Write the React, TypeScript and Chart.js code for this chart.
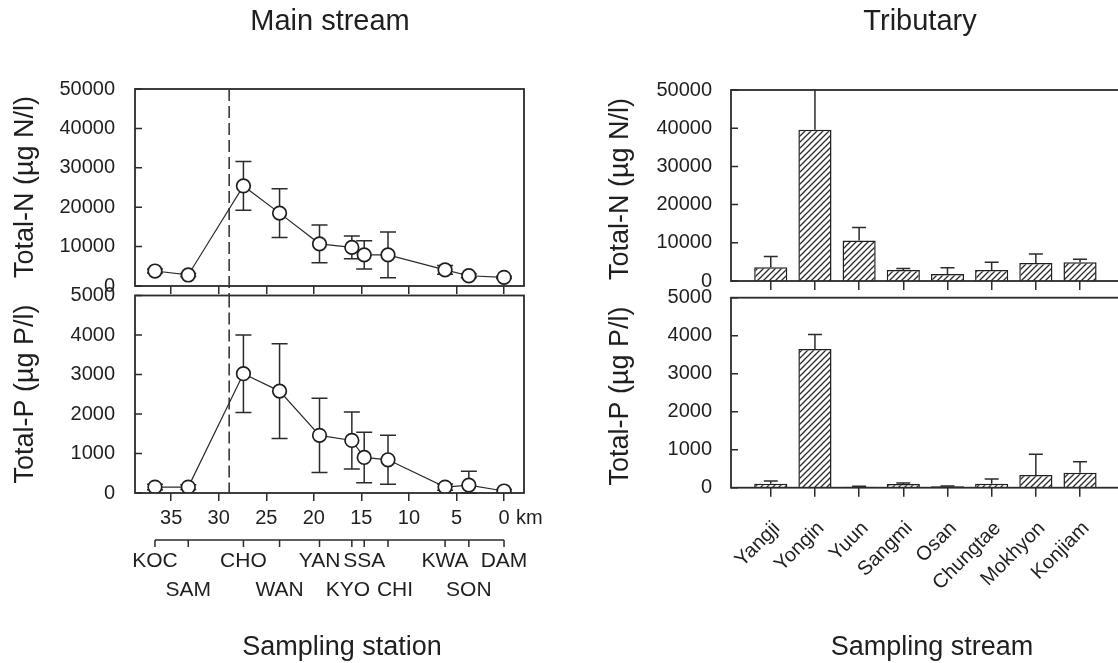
import React, { useEffect, useRef } from 'react';
import { Chart, registerables } from 'chart.js';

Chart.register(...registerables);

const CW = 1140;
const CH = 663;
const FONT = '"Liberation Sans", Arial, Helvetica, sans-serif';
const INK = '#1f1f1f';
const LINE = '#2b2b2b';

// ---- Main stream (left) ----
const stations = ['KOC', 'SAM', 'CHO', 'WAN', 'YAN', 'KYO', 'SSA', 'CHI', 'KWA', 'SON', 'DAM'];
const stationKm = [36.7, 33.2, 27.4, 23.6, 19.4, 16.0, 14.7, 12.2, 6.2, 3.7, 0.0];
const stationRow = [0, 1, 0, 1, 0, 1, 0, 1, 0, 1, 0];
const mainN = [3800, 2800, 25400, 18500, 10700, 9800, 7900, 7900, 4100, 2600, 2200];
const mainNErr = [500, 400, 6200, 6200, 4800, 2900, 3600, 5800, 1100, 500, 300];
const mainP = [150, 150, 3020, 2580, 1460, 1330, 900, 840, 150, 200, 50];
const mainPErr = [70, 60, 980, 1200, 940, 720, 640, 620, 80, 350, 40];
const kmTicks = [35, 30, 25, 20, 15, 10, 5, 0];
const boundaryKm = 28.9;

// ---- Tributary (right) ----
const tributaries = ['Yangji', 'Yongin', 'Yuun', 'Sangmi', 'Osan', 'Chungtae', 'Mokhyon', 'Konjiam'];
const tribN = [3600, 39600, 10600, 2900, 1800, 2900, 4700, 4900];
const tribNErr = [2800, 12000, 3400, 350, 1700, 2000, 2400, 800];
const tribP = [105, 3650, 25, 95, 35, 105, 335, 395];
const tribPErr = [70, 380, 10, 30, 10, 125, 545, 290];

const nTicks = [0, 10000, 20000, 30000, 40000, 50000];
const pTicks = [0, 1000, 2000, 3000, 4000, 5000];

type Area = { left: number; top: number; right: number; bottom: number };
type Label = { text: string; x: number; y: number; size: number; rotate?: boolean };

function drawLabels(ctx: CanvasRenderingContext2D, labels: Label[]) {
  ctx.save();
  ctx.fillStyle = INK;
  labels.forEach((l) => {
    ctx.save();
    ctx.font = `${l.size}px ${FONT}`;
    ctx.textAlign = 'center';
    ctx.textBaseline = 'middle';
    ctx.translate(l.x, l.y);
    if (l.rotate) ctx.rotate(-Math.PI / 2);
    ctx.fillText(l.text, 0, 0);
    ctx.restore();
  });
  ctx.restore();
}

function frameAndTicks(chart: any, yTicks: number[]) {
  const ctx = chart.ctx as CanvasRenderingContext2D;
  const a = chart.chartArea;
  const ys = chart.scales.y;
  ctx.save();
  ctx.strokeStyle = LINE;
  ctx.lineWidth = 1.8;
  ctx.strokeRect(a.left, a.top, a.right - a.left, a.bottom - a.top);
  ctx.lineWidth = 1.5;
  ctx.beginPath();
  yTicks.forEach((v) => {
    const p = ys.getPixelForValue(v);
    ctx.moveTo(a.left, p);
    ctx.lineTo(a.left + 7, p);
  });
  ctx.stroke();
  ctx.restore();
}

function lineConfig(o: {
  area: Area; values: number[]; errs: number[]; yMax: number; yTicks: number[];
  showX: boolean; xH: number; labels: Label[]; dashTop: number; dashBottom: number; stationsDecor: boolean;
}) {
  const { area } = o;
  const decor = {
    id: 'decor',
    beforeDatasetsDraw(chart: any) {
      const ctx = chart.ctx as CanvasRenderingContext2D;
      const xs = chart.scales.x;
      const ys = chart.scales.y;
      ctx.save();
      const dx = xs.getPixelForValue(boundaryKm);
      ctx.strokeStyle = LINE;
      ctx.lineWidth = 1.5;
      ctx.setLineDash([12, 5]);
      ctx.beginPath();
      ctx.moveTo(dx, o.dashTop);
      ctx.lineTo(dx, o.dashBottom);
      ctx.stroke();
      ctx.setLineDash([]);
      ctx.lineWidth = 1.5;
      ctx.beginPath();
      stationKm.forEach((k, i) => {
        const px = xs.getPixelForValue(k);
        const hi = ys.getPixelForValue(o.values[i] + o.errs[i]);
        const lo = ys.getPixelForValue(Math.max(0, o.values[i] - o.errs[i]));
        ctx.moveTo(px, hi);
        ctx.lineTo(px, lo);
        ctx.moveTo(px - 8, hi);
        ctx.lineTo(px + 8, hi);
        ctx.moveTo(px - 8, lo);
        ctx.lineTo(px + 8, lo);
      });
      ctx.stroke();
      ctx.restore();
    },
    afterDraw(chart: any) {
      const ctx = chart.ctx as CanvasRenderingContext2D;
      frameAndTicks(chart, o.yTicks);
      if (o.stationsDecor) {
        const xs = chart.scales.x;
        const pts = stationKm.map((k) => xs.getPixelForValue(k));
        ctx.save();
        ctx.strokeStyle = LINE;
        ctx.lineWidth = 1.5;
        ctx.beginPath();
        ctx.moveTo(pts[0], 540);
        ctx.lineTo(pts[pts.length - 1], 540);
        pts.forEach((p) => {
          ctx.moveTo(p, 540);
          ctx.lineTo(p, 547);
        });
        ctx.stroke();
        ctx.fillStyle = INK;
        ctx.font = `21px ${FONT}`;
        ctx.textAlign = 'center';
        ctx.textBaseline = 'middle';
        stations.forEach((s, i) => {
          // keep the crowded pair KYO / CHI apart, as in the original lettering
          const nudge = s === 'KYO' ? -4 : s === 'CHI' ? 7 : 0;
          ctx.fillText(s, pts[i] + nudge, stationRow[i] ? 590 : 561);
        });
        ctx.font = `20px ${FONT}`;
        ctx.textAlign = 'left';
        ctx.fillText('km', xs.getPixelForValue(0) + 12, xs.top + 8 + 5 + 12);
        ctx.restore();
      }
      drawLabels(ctx, o.labels);
    },
  };
  return {
    type: 'line' as const,
    data: {
      datasets: [
        {
          data: stationKm.map((k, i) => ({ x: k, y: o.values[i] })),
          borderColor: LINE,
          borderWidth: 1.2,
          pointRadius: 6.8,
          pointBackgroundColor: '#ffffff',
          pointBorderColor: INK,
          pointBorderWidth: 1.7,
          tension: 0,
          fill: false,
        },
      ],
    },
    options: {
      responsive: false,
      animation: false as const,
      devicePixelRatio: 1,
      events: [],
      layout: { padding: { left: 0, top: area.top, right: CW - area.right, bottom: CH - area.bottom - o.xH } },
      plugins: { legend: { display: false }, tooltip: { enabled: false }, title: { display: false } },
      scales: {
        x: {
          type: 'linear' as const,
          reverse: true,
          min: -2.1,
          max: 38.8,
          afterFit: (s: any) => { s.height = o.xH; },
          afterBuildTicks: (s: any) => { s.ticks = kmTicks.map((v) => ({ value: v })); },
          grid: { display: true, drawOnChartArea: false, drawTicks: true, tickLength: 8, color: LINE, tickColor: LINE, tickWidth: 1.5, lineWidth: 1.5 },
          border: { display: false },
          ticks: {
            display: o.showX, autoSkip: false, minRotation: 0, maxRotation: 0, padding: 5, color: INK,
            font: { family: FONT, size: 20 }, callback: (v: any) => String(v),
          },
        },
        y: {
          type: 'linear' as const,
          min: 0,
          max: o.yMax,
          afterFit: (s: any) => { s.width = area.left; },
          afterBuildTicks: (s: any) => { s.ticks = o.yTicks.map((v) => ({ value: v })); },
          grid: { display: false },
          border: { display: false },
          ticks: { padding: 12, color: INK, font: { family: FONT, size: 20 }, callback: (v: any) => String(v) },
        },
      },
    },
    plugins: [decor],
  };
}

function makeHatch(ctx: CanvasRenderingContext2D) {
  const t = document.createElement('canvas');
  t.width = 6;
  t.height = 6;
  const g = t.getContext('2d') as CanvasRenderingContext2D;
  g.fillStyle = '#ffffff';
  g.fillRect(0, 0, 6, 6);
  g.strokeStyle = '#2b2b2b';
  g.lineWidth = 1.3;
  g.beginPath();
  g.moveTo(-1, 7); g.lineTo(7, -1);
  g.moveTo(-1, 1); g.lineTo(1, -1);
  g.moveTo(5, 7); g.lineTo(7, 5);
  g.stroke();
  return ctx.createPattern(t, 'repeat');
}

function barConfig(ctx: CanvasRenderingContext2D, o: {
  area: Area; values: number[]; errs: number[]; yMax: number; yTicks: number[];
  showX: boolean; xH: number; labels: Label[];
}) {
  const { area } = o;
  const decor = {
    id: 'decor',
    afterDatasetsDraw(chart: any) {
      const c = chart.ctx as CanvasRenderingContext2D;
      const a = chart.chartArea;
      const xs = chart.scales.x;
      const ys = chart.scales.y;
      c.save();
      c.beginPath();
      c.rect(a.left, a.top, a.right - a.left, a.bottom - a.top);
      c.clip();
      c.strokeStyle = LINE;
      c.lineWidth = 1.5;
      c.beginPath();
      o.values.forEach((v, i) => {
        const px = xs.getPixelForValue(i + 1);
        const top = ys.getPixelForValue(v);
        const hi = ys.getPixelForValue(v + o.errs[i]);
        c.moveTo(px, top);
        c.lineTo(px, hi);
        c.moveTo(px - 7, hi);
        c.lineTo(px + 7, hi);
      });
      c.stroke();
      c.restore();
    },
    afterDraw(chart: any) {
      frameAndTicks(chart, o.yTicks);
      drawLabels(chart.ctx, o.labels);
    },
  };
  return {
    type: 'bar' as const,
    data: {
      datasets: [
        {
          data: tributaries.map((_, i) => ({ x: i + 1, y: o.values[i] })),
          backgroundColor: makeHatch(ctx) as any,
          borderColor: INK,
          borderWidth: 1.5,
          borderSkipped: 'start' as const,
          barPercentage: 0.75,
          categoryPercentage: 1,
        },
      ],
    },
    options: {
      responsive: false,
      animation: false as const,
      devicePixelRatio: 1,
      events: [],
      layout: { padding: { left: 0, top: area.top, right: CW - area.right, bottom: CH - area.bottom - o.xH } },
      plugins: { legend: { display: false }, tooltip: { enabled: false }, title: { display: false } },
      scales: {
        x: {
          type: 'linear' as const,
          min: 0.1,
          max: 8.95,
          offset: false,
          afterFit: (s: any) => { s.height = o.xH; },
          afterBuildTicks: (s: any) => { s.ticks = tributaries.map((_, i) => ({ value: i + 1 })); },
          grid: { display: true, offset: false, drawOnChartArea: false, drawTicks: true, tickLength: 9, color: LINE, tickColor: LINE, tickWidth: 1.5, lineWidth: 1.5 },
          border: { display: false },
          ticks: {
            display: o.showX, autoSkip: false, minRotation: 45, maxRotation: 45, padding: 20, labelOffset: 6, color: INK,
            font: { family: FONT, size: 20 },
            callback: (v: any) => tributaries[Math.round(Number(v)) - 1] ?? '',
          },
        },
        y: {
          type: 'linear' as const,
          min: 0,
          max: o.yMax,
          afterFit: (s: any) => { s.width = area.left; },
          afterBuildTicks: (s: any) => { s.ticks = o.yTicks.map((v) => ({ value: v })); },
          grid: { display: false },
          border: { display: false },
          ticks: { padding: 11, color: INK, font: { family: FONT, size: 20 }, callback: (v: any) => String(v) },
        },
      },
    },
    plugins: [decor],
  };
}

function Panel({ build }: { build: (ctx: CanvasRenderingContext2D) => any }) {
  const ref = useRef<HTMLCanvasElement | null>(null);
  useEffect(() => {
    const canvas = ref.current;
    if (!canvas) return;
    const ctx = canvas.getContext('2d') as CanvasRenderingContext2D;
    const chart = new Chart(canvas, build(ctx));
    return () => chart.destroy();
  }, [build]);
  return (
    <canvas
      ref={ref}
      width={CW}
      height={CH}
      style={{ position: 'absolute', left: 0, top: 0, width: CW, height: CH }}
    />
  );
}

const buildTL = () =>
  lineConfig({
    area: { left: 135, top: 89, right: 524, bottom: 286 },
    values: mainN, errs: mainNErr, yMax: 50000, yTicks: nTicks, showX: false, xH: 20,
    dashTop: 89, dashBottom: 296, stationsDecor: false,
    labels: [
      { text: 'Main stream', x: 330, y: 22, size: 29 },
      { text: 'Total-N (\u00b5g N/l)', x: 26, y: 187, size: 27, rotate: true },
    ],
  });

const buildBL = () =>
  lineConfig({
    area: { left: 135, top: 295.5, right: 524, bottom: 493 },
    values: mainP, errs: mainPErr, yMax: 5000, yTicks: pTicks, showX: true, xH: 170,
    dashTop: 295.5, dashBottom: 493, stationsDecor: true,
    labels: [
      { text: 'Total-P (\u00b5g P/l)', x: 26, y: 394, size: 27, rotate: true },
      { text: 'Sampling station', x: 342, y: 648, size: 27 },
    ],
  });

const buildTR = (ctx: CanvasRenderingContext2D) =>
  barConfig(ctx, {
    area: { left: 731, top: 90, right: 1122, bottom: 281 },
    values: tribN, errs: tribNErr, yMax: 50000, yTicks: nTicks, showX: false, xH: 20,
    labels: [
      { text: 'Tributary', x: 920, y: 22, size: 29 },
      { text: 'Total-N (\u00b5g N/l)', x: 621, y: 189, size: 27, rotate: true },
    ],
  });

const buildBR = (ctx: CanvasRenderingContext2D) =>
  barConfig(ctx, {
    area: { left: 731, top: 297.7, right: 1122, bottom: 487.7 },
    values: tribP, errs: tribPErr, yMax: 5000, yTicks: pTicks, showX: true, xH: 175.3,
    labels: [
      { text: 'Total-P (\u00b5g P/l)', x: 621, y: 396, size: 27, rotate: true },
      { text: 'Sampling stream', x: 932, y: 648, size: 27 },
    ],
  });

export default function App() {
  return (
    <div
      style={{
        position: 'fixed', left: 0, top: 0, width: 1118, height: 663,
        overflow: 'hidden', background: '#ffffff',
      }}
    >
      <Panel build={buildTL} />
      <Panel build={buildBL} />
      <Panel build={buildTR} />
      <Panel build={buildBR} />
    </div>
  );
}
